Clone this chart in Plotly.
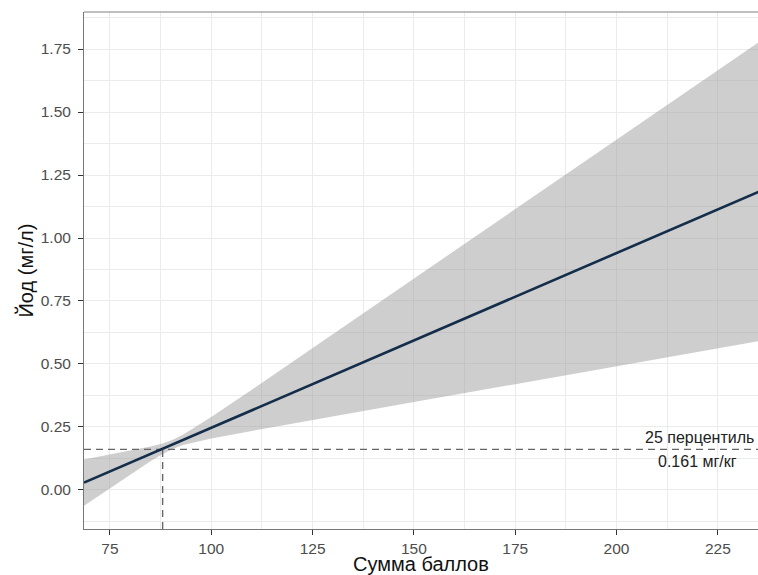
import plotly.graph_objects as go

# ---- data ----
fit_x = [68.6, 235.0]
fit_y = [0.029, 1.183]

band_x = [68.6, 75, 80, 85, 88, 90.5, 93, 96, 100, 110, 125, 150, 175, 200, 235]
band_upper = [0.121, 0.140, 0.155, 0.172, 0.184, 0.199, 0.219, 0.248, 0.290, 0.398, 0.563, 0.838, 1.114, 1.390, 1.776]
band_lower = [-0.063, 0.007, 0.061, 0.114, 0.143, 0.163, 0.178, 0.190, 0.204, 0.234, 0.278, 0.349, 0.420, 0.491, 0.590]

cut_x = 88.0
cut_y = 0.161

x_ticks = [75, 100, 125, 150, 175, 200, 225]
y_ticks = [0.0, 0.25, 0.5, 0.75, 1.0, 1.25, 1.5, 1.75]
x_range = [68.6, 234.9]
y_range = [-0.155, 1.897]

label_top = "25 перцентиль"
label_bottom = "0.161 мг/кг"
x_title = "Сумма баллов"
y_title = "Йод (мг/л)"

FONT = "Liberation Sans, Arial, sans-serif"

fig = go.Figure()

# confidence band
fig.add_trace(go.Scatter(x=band_x, y=band_lower, mode="lines", line=dict(width=0),
                         hoverinfo="skip", showlegend=False))
fig.add_trace(go.Scatter(x=band_x, y=band_upper, mode="lines", line=dict(width=0),
                         fill="tonexty", fillcolor="rgba(153,153,153,0.48)",
                         hoverinfo="skip", showlegend=False))

# dashed reference lines
fig.add_trace(go.Scatter(x=[x_range[0], x_range[1]], y=[cut_y, cut_y], mode="lines",
                         line=dict(color="#666666", width=1.4, dash="7px,5px"),
                         hoverinfo="skip", showlegend=False))
fig.add_trace(go.Scatter(x=[cut_x, cut_x], y=[y_range[0], cut_y], mode="lines",
                         line=dict(color="#666666", width=1.4, dash="7px,5px"),
                         hoverinfo="skip", showlegend=False))

# fitted line
fig.add_trace(go.Scatter(x=fit_x, y=fit_y, mode="lines",
                         line=dict(color="#132d4a", width=2.6),
                         showlegend=False))

grid = "#EBEBEB"
tickfont = dict(family=FONT, size=15.5, color="#4D4D4D")
fig.update_xaxes(range=x_range, tickmode="array", tickvals=x_ticks,
                 ticktext=[str(v) for v in x_ticks],
                 showgrid=True, gridcolor=grid, gridwidth=1.1,
                 minor=dict(showgrid=True, gridcolor=grid, gridwidth=0.6, tick0=62.5, dtick=12.5),
                 ticks="outside", ticklen=5, tickcolor="#333333", tickwidth=1.2,
                 showline=True, linecolor="#777777", linewidth=1,
                 zeroline=False, tickfont=tickfont)
fig.update_yaxes(range=y_range, tickmode="array", tickvals=y_ticks,
                 ticktext=[f"{v:.2f}" for v in y_ticks],
                 showgrid=True, gridcolor=grid, gridwidth=1.1,
                 minor=dict(showgrid=True, gridcolor=grid, gridwidth=0.6, tick0=0.125, dtick=0.25),
                 ticks="outside", ticklen=5, tickcolor="#333333", tickwidth=1.2,
                 ticklabelstandoff=4,
                 showline=True, linecolor="#777777", linewidth=1,
                 zeroline=False, tickfont=tickfont)

# top panel border
fig.add_shape(type="line", xref="paper", yref="paper", x0=0, x1=1, y0=1, y1=1,
              line=dict(color="#AAAAAA", width=1.5))

annotations = [
    dict(text=label_top, x=1, xref="paper", xanchor="right", xshift=-2,
         y=cut_y, yref="y", yanchor="middle", yshift=11.5, showarrow=False,
         font=dict(family=FONT, size=16, color="#222222")),
    dict(text=label_bottom, x=75 + (698 - 110.5) / 4.05, xref="x", xanchor="center",
         y=cut_y, yref="y", yanchor="middle", yshift=-12.5, showarrow=False,
         font=dict(family=FONT, size=16, color="#222222")),
    dict(text=x_title, x=0.5, xref="paper", xanchor="center",
         y=-0.068, yref="paper", yanchor="middle", showarrow=False,
         font=dict(family=FONT, size=20, color="#111111")),
    dict(text=y_title, x=-0.0875, xref="paper", xanchor="center",
         y=0.5, yref="paper", yanchor="middle", textangle=-90, showarrow=False,
         font=dict(family=FONT, size=20, color="#111111")),
]

fig.update_layout(width=758, height=575,
                  margin=dict(l=84, r=0, t=12, b=46),
                  plot_bgcolor="white", paper_bgcolor="white",
                  annotations=annotations, showlegend=False)

fig.write_html("out.html")
